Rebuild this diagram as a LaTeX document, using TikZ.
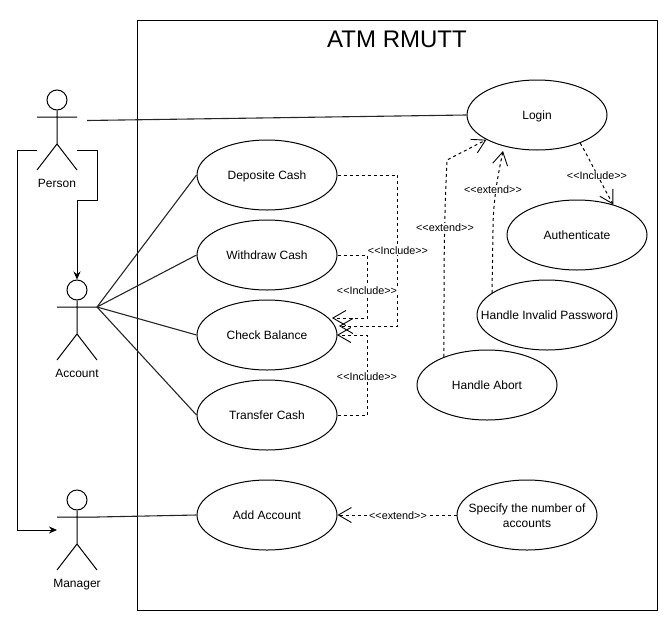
\documentclass[tikz,border=0pt]{standalone}
\usepackage{fontspec}
\setmainfont{Liberation Sans}
\usetikzlibrary{arrows.meta,shapes.geometric}

\tikzset{
  usecase/.style={draw,ellipse,minimum width=140pt,minimum height=70pt,inner sep=-30pt,align=center,text height=9pt,text depth=0pt,font=\fontsize{12}{15}\selectfont},
  actorname/.style={anchor=base,font=\fontsize{12}{14}\selectfont,inner sep=0pt},
  stereo/.style={fill=white,inner sep=.5pt,font=\fontsize{10.8}{12}\selectfont},
  assoc/.style={draw=black!85,line width=1.1pt},
  dep/.style={dash pattern=on 3pt off 3pt,-{Straight Barb[length=13pt,width=15pt,line width=.9pt]}},
  flow/.style={-{Stealth[length=8pt,width=7pt]}}
}

\begin{document}
\begin{tikzpicture}[x=1pt,y=-1pt,line width=1pt]
  \useasboundingbox (0,0) rectangle (668,621);
  \node[draw,minimum width=520pt,minimum height=590pt,inner sep=0pt] (system) at (397.5,315.5) {};
  \node[font=\fontsize{24}{28}\selectfont,inner sep=0pt] (title) at (397,39) {ATM RMUTT};

  % actors
  \node[draw,circle,minimum size=20pt,inner sep=0pt] (personhead) at (57,100) {};
  \draw (personhead.south) -- (57,144) (37,117) -- (77,117) (37,170) -- (57,144) -- (77,170);
  \node[actorname] (person) at (57,187.5) {Person};
  \node[draw,circle,minimum size=20pt,inner sep=0pt] (accounthead) at (77,290) {};
  \draw (accounthead.south) -- (77,334) (57,307) -- (97,307) (57,360) -- (77,334) -- (97,360);
  \node[actorname] (account) at (77,377.5) {Account};
  \node[draw,circle,minimum size=20pt,inner sep=0pt] (managerhead) at (77,500) {};
  \draw (managerhead.south) -- (77,544) (57,517) -- (97,517) (57,570) -- (77,544) -- (97,570);
  \node[actorname] (manager) at (77,587.5) {Manager};
  \coordinate (personout) at (87,120.5);
  \coordinate (personleft) at (37,150);
  \coordinate (personright) at (77,150);
  \coordinate (accounthub) at (97,307);
  \coordinate (managerhub) at (97,517);
  \coordinate (managerin) at (57,530);

  % use cases
  \node[usecase] (deposit) at (267,175) {Deposite Cash};
  \node[usecase] (withdraw) at (267,255) {Withdraw Cash};
  \node[usecase] (check) at (267,335) {Check Balance};
  \node[usecase] (transfer) at (267,415) {Transfer Cash};
  \node[usecase] (add) at (267,515) {Add Account};
  \node[usecase] (login) at (537,115) {Login};
  \node[usecase] (auth) at (577,235) {Authenticate};
  \node[usecase] (invalid) at (547,315) {Handle Invalid Password};
  \node[usecase] (abort) at (487,385) {Handle Abort};
  \node[usecase,text height=24pt] (specify) at (527,515) {Specify the number of\\accounts};

  % generalisation
  \draw[flow] (personright) -- (97,150) -- (97,200) -- (77,200) -- (accounthead.north);
  \draw[flow] (personleft) -- (17,150) -- (17,530) -- (managerin);

  % associations
  \draw[assoc] (personout) -- (login.west);
  \draw[assoc] (accounthub) -- (deposit.west);
  \draw[assoc] (accounthub) -- (withdraw.west);
  \draw[assoc] (accounthub) -- (check.west);
  \draw[assoc] (accounthub) -- (transfer.west);
  \draw[assoc] (managerhub) -- (add.west);

  % include and extend
  \coordinate (tipwithdraw) at (332,318);
  \coordinate (tipdeposit) at (339,326);
  \coordinate (tiptransfer) at (337,335);
  \coordinate (tipinvalid) at (503,151);
  \draw[dep] (deposit.east) -- (397.5,175) -- (397.5,326) -- (tipdeposit);
  \draw[dep] (withdraw.east) -- (367,255) -- (367,318) -- (tipwithdraw);
  \draw[dep] (transfer.east) -- (367,415) -- (367,335) -- (tiptransfer);
  \draw[dep] (abort.147) -- (444,300) .. controls (444,240) and (445,200) .. (447,160) -- (login.206);
  \draw[dep] (invalid.158) -- (493,230) .. controls (493,200) and (498,175) .. (tipinvalid);
  \draw[dep] (login.-33) .. controls (590,160) and (602,185) .. (auth.40);
  \draw[dep] (specify.west) -- (add.east);

  \node[stereo] (incdeposit) at (398,250.8) {<{}<Include>{}>};
  \node[stereo] (incwithdraw) at (367,290.8) {<{}<Include>{}>};
  \node[stereo] (inctransfer) at (367,376.8) {<{}<Include>{}>};
  \node[stereo] (incauth) at (597,175.8) {<{}<Include>{}>};
  \node[stereo] (extabort) at (445,227.8) {<{}<extend>{}>};
  \node[stereo] (extinvalid) at (493,189.8) {<{}<extend>{}>};
  \node[stereo] (extspecify) at (398,515.8) {<{}<extend>{}>};
\end{tikzpicture}
\end{document}
